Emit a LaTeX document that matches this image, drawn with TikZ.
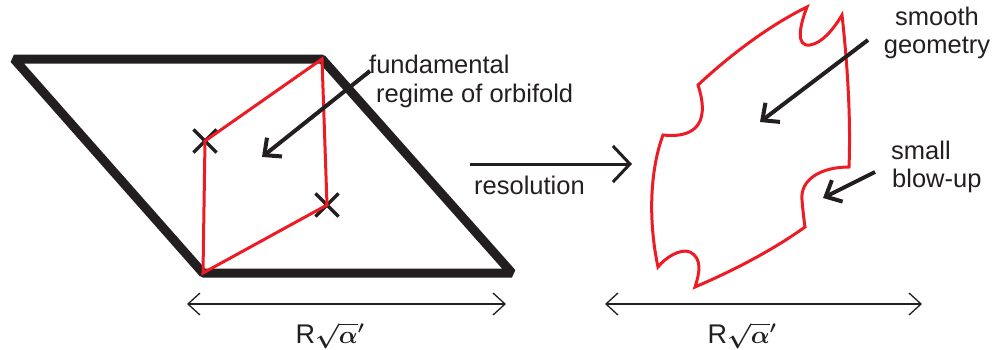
\documentclass[tikz,border=0pt]{standalone}
\usepackage{fontspec}
\setmainfont{Liberation Sans}
\usepackage{amsmath,bm}
\usetikzlibrary{arrows.meta,shapes.misc}
\definecolor{redline}{HTML}{ED1C24}
\definecolor{ink}{HTML}{231F20}
\begin{document}
\begin{tikzpicture}[x=1pt,y=-1pt,
  lbl/.style={inner sep=0pt, anchor=base west, text=ink, font=\fontsize{25.5}{29}\selectfont},
  clbl/.style={inner sep=0pt, anchor=base, text=ink, font=\fontsize{25.5}{29}\selectfont},
  dimlbl/.style={inner sep=0pt, anchor=base, text=ink, font=\fontsize{27}{30}\selectfont\mathversion{bold}},
  cell/.style={draw=ink, line width=9pt, line join=bevel},
  fund/.style={draw=redline, line width=3pt, line join=miter},
  xmark/.style={cross out, draw=ink, line width=3.2pt, minimum size=20pt, inner sep=0pt},
  ptr/.style={draw=ink, line width=4pt, -{Straight Barb[length=13pt,width=24pt]}},
  resarrow/.style={draw=ink, line width=3pt, -{Straight Barb[length=17pt,width=36pt]}},
  dimarrow/.style={draw=ink, line width=1.3pt, {Straight Barb[length=12pt,width=22pt]}-{Straight Barb[length=12pt,width=22pt]}},
]
\useasboundingbox (0,0) rectangle (996,349);

% lattice cell
\coordinate (pA) at (14,59);
\coordinate (pB) at (322,59);
\coordinate (pC) at (512,273);
\coordinate (pD) at (203,273);
\draw[cell] (pA) -- (pB) -- (pC) -- (pD) -- cycle;

% fundamental regime
\node[xmark] (x1) at (205,141) {};
\node[xmark] (x2) at (327,205) {};
\draw[fund] (pB) -- (x1.center) -- (pD) -- (x2.center) -- cycle;

% label and pointer
\node[lbl] (fa) at (369,73) {fundamental};
\node[lbl] (fb) at (376,102) {regime of orbifold};
\coordinate (fta) at (370,71);
\coordinate (fhe) at (262,157);
\draw[ptr] (fta) -- (fhe);

% resolution arrow
\coordinate (ra) at (470,164);
\coordinate (rb) at (632,164);
\draw[resarrow] (ra) -- (rb);
\node[lbl] (res) at (474,194) {resolution};

% smooth resolved shape
\draw[fund]
  (807,7) .. controls (800,25) and (795,47) .. (810,45)
  .. controls (822,43) and (833,30) .. (842,15)
  .. controls (847,60) and (851,115) .. (849,167)
  .. controls (820,167) and (800,180) .. (802,200)
  .. controls (803,212) and (804,220) .. (805,227)
  .. controls (770,252) and (730,272) .. (695,287)
  .. controls (700,272) and (702,258) .. (690,252)
  .. controls (680,248) and (665,258) .. (658,267)
  .. controls (648,220) and (650,170) .. (663,135)
  .. controls (690,138) and (712,128) .. (698,85)
  .. controls (730,55) and (770,25) .. cycle;

\node[clbl] (sa) at (937,25) {smooth};
\node[clbl] (sb) at (937,53) {geometry};
\coordinate (sta) at (868,40);
\coordinate (she) at (760,122);
\draw[ptr] (sta) -- (she);

\node[lbl] (ba) at (891,159) {small};
\node[lbl] (bb) at (892,187) {blow-up};
\coordinate (bta) at (875,172);
\coordinate (bhe) at (823,198);
\draw[ptr] (bta) -- (bhe);

% dimension arrows
\coordinate (dl1) at (187,304);
\coordinate (dl2) at (506,304);
\draw[dimarrow] (dl1) -- (dl2);
\node[dimlbl] (dla) at (330,343) {R$\sqrt{\alpha}{}'$};

\coordinate (dr1) at (605,304);
\coordinate (dr2) at (922,304);
\draw[dimarrow] (dr1) -- (dr2);
\node[dimlbl] (dra) at (742,343) {R$\sqrt{\alpha}{}'$};
\end{tikzpicture}
\end{document}
